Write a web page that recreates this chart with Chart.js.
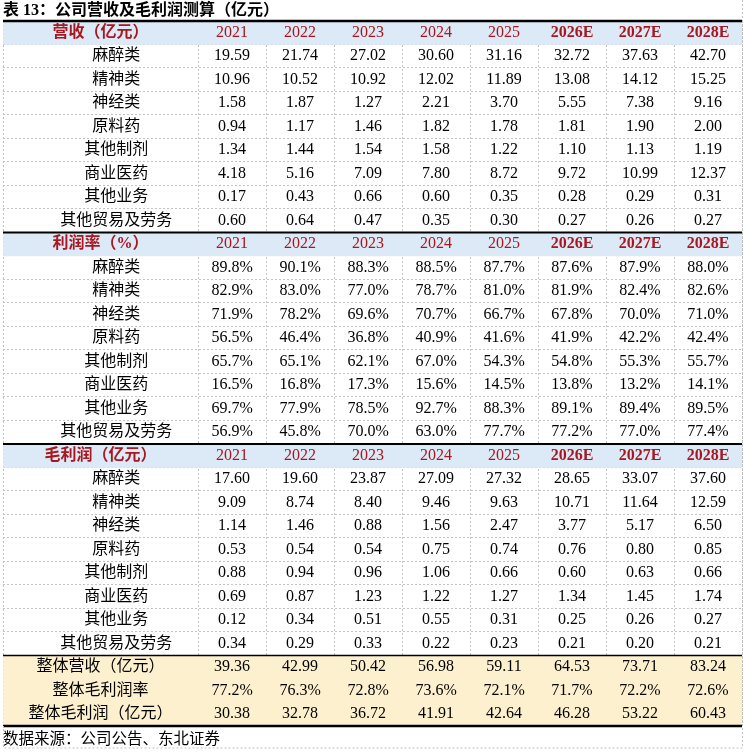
<!DOCTYPE html>
<html>
<head>
<meta charset="utf-8">
<script src="https://cdn.jsdelivr.net/npm/chart.js@4.4.1/dist/chart.umd.min.js"></script>
<style>
  html, body { margin: 0; background: #fff; }
  #wrap { width: 745px; height: 753px; }
</style>
</head>
<body>
<div id="wrap"><canvas id="tbl"></canvas></div>
<script>
  const years = ['2021', '2022', '2023', '2024', '2025', '2026E', '2027E', '2028E'];
  const estimated = ['2026E', '2027E', '2028E'];
  const segments = ['麻醉类', '精神类', '神经类', '原料药', '其他制剂', '商业医药', '其他业务', '其他贸易及劳务'];
  const sectionTitles = ['营收（亿元）', '利润率（%）', '毛利润（亿元）'];
  const totalTitles = ['整体营收（亿元）', '整体毛利润率', '整体毛利润（亿元）'];

  // 营收（亿元）
  const revenue = [
    [19.59, 21.74, 27.02, 30.60, 31.16, 32.72, 37.63, 42.70],
    [10.96, 10.52, 10.92, 12.02, 11.89, 13.08, 14.12, 15.25],
    [1.58, 1.87, 1.27, 2.21, 3.70, 5.55, 7.38, 9.16],
    [0.94, 1.17, 1.46, 1.82, 1.78, 1.81, 1.90, 2.00],
    [1.34, 1.44, 1.54, 1.58, 1.22, 1.10, 1.13, 1.19],
    [4.18, 5.16, 7.09, 7.80, 8.72, 9.72, 10.99, 12.37],
    [0.17, 0.43, 0.66, 0.60, 0.35, 0.28, 0.29, 0.31],
    [0.60, 0.64, 0.47, 0.35, 0.30, 0.27, 0.26, 0.27]
  ];

  // 利润率（%）
  const margin = [
    [89.8, 90.1, 88.3, 88.5, 87.7, 87.6, 87.9, 88.0],
    [82.9, 83.0, 77.0, 78.7, 81.0, 81.9, 82.4, 82.6],
    [71.9, 78.2, 69.6, 70.7, 66.7, 67.8, 70.0, 71.0],
    [56.5, 46.4, 36.8, 40.9, 41.6, 41.9, 42.2, 42.4],
    [65.7, 65.1, 62.1, 67.0, 54.3, 54.8, 55.3, 55.7],
    [16.5, 16.8, 17.3, 15.6, 14.5, 13.8, 13.2, 14.1],
    [69.7, 77.9, 78.5, 92.7, 88.3, 89.1, 89.4, 89.5],
    [56.9, 45.8, 70.0, 63.0, 77.7, 77.2, 77.0, 77.4]
  ];

  // 毛利润（亿元）
  const grossProfit = [
    [17.60, 19.60, 23.87, 27.09, 27.32, 28.65, 33.07, 37.60],
    [9.09, 8.74, 8.40, 9.46, 9.63, 10.71, 11.64, 12.59],
    [1.14, 1.46, 0.88, 1.56, 2.47, 3.77, 5.17, 6.50],
    [0.53, 0.54, 0.54, 0.75, 0.74, 0.76, 0.80, 0.85],
    [0.88, 0.94, 0.96, 1.06, 0.66, 0.60, 0.63, 0.66],
    [0.69, 0.87, 1.23, 1.22, 1.27, 1.34, 1.45, 1.74],
    [0.12, 0.34, 0.51, 0.55, 0.31, 0.25, 0.26, 0.27],
    [0.34, 0.29, 0.33, 0.22, 0.23, 0.21, 0.20, 0.21]
  ];

  const totalRevenue = [39.36, 42.99, 50.42, 56.98, 59.11, 64.53, 73.71, 83.24];
  const totalMargin = [77.2, 76.3, 72.8, 73.6, 72.1, 71.7, 72.2, 72.6];
  const totalProfit = [30.38, 32.78, 36.72, 41.91, 42.64, 46.28, 53.22, 60.43];

  const fmtNum = v => v.toFixed(2);
  const fmtPct = v => v.toFixed(1) + '%';

  // one entry per table row, top to bottom
  let rows = [];
  [[revenue, fmtNum], [margin, fmtPct], [grossProfit, fmtNum]].forEach(([block, fmt], s) => {
    rows.push({ kind: 'head', label: sectionTitles[s], cells: years });
    segments.forEach((name, j) => {
      rows.push({ kind: 'body', label: name, cells: block[j].map(fmt) });
    });
  });
  rows.push({ kind: 'total', label: totalTitles[0], cells: totalRevenue.map(fmtNum) });
  rows.push({ kind: 'total', label: totalTitles[1], cells: totalMargin.map(fmtPct) });
  rows.push({ kind: 'total', label: totalTitles[2], cells: totalProfit.map(fmtNum) });

  const labelSpan = 2.87;              // width of the label column in data-column units
  const xMax = labelSpan + years.length;
  const rowKeys = rows.map((r, i) => 'r' + i);
  const fills = { head: '#dce9f6', total: '#fdf0cf' };
  const bandRows = rows.map((r, i) => ({ r, i })).filter(o => fills[o.r.kind]);

  const numFont = "'Liberation Serif', 'Noto Sans CJK SC', serif";
  const headRed = '#a8161f';
  const gridGrey = '#c2c2c2';

  const cellText = {
    id: 'cellText',
    afterDraw(chart) {
      const { ctx, chartArea: a } = chart;
      const x = chart.scales.x;
      const y = chart.scales.y;
      ctx.save();
      ctx.textBaseline = 'middle';
      ctx.textAlign = 'center';

      rows.forEach((row, i) => {
        let cy = y.getPixelForValue(i);
        let head = row.kind === 'head';
        ctx.fillStyle = head ? headRed : '#000';
        ctx.font = (head ? 'bold ' : '') + '16px ' + numFont;
        let lx = x.getPixelForValue(row.kind === 'body' ? labelSpan * 0.58 : labelSpan / 2);
        ctx.fillText(row.label, lx, cy);
        row.cells.forEach((t, k) => {
          ctx.font = (head && estimated.includes(t) ? 'bold ' : '') + '16px ' + numFont;
          ctx.fillText(t, x.getPixelForValue(labelSpan + k + 0.5), cy);
        });
      });

      // solid rules: table top, above each section head, above totals, table bottom
      function rule(edge, w) {
        let py = y.getPixelForValue(edge - 0.5);
        ctx.beginPath();
        ctx.lineWidth = w;
        ctx.strokeStyle = '#000';
        ctx.moveTo(a.left, py);
        ctx.lineTo(a.right, py);
        ctx.stroke();
      }
      rows.forEach((row, i) => {
        if (row.kind === 'head') rule(i, i === 0 ? 2.6 : 2);
        if (row.kind === 'total' && rows[i - 1].kind !== 'total') rule(i, 1.6);
      });
      rule(rows.length, 2.6);

      // dashed frame round the whole picture
      let frameBottom = chart.height - 5;
      ctx.beginPath();
      ctx.lineWidth = 1;
      ctx.strokeStyle = gridGrey;
      ctx.setLineDash([2, 2]);
      ctx.moveTo(a.right + 0.5, 0);
      ctx.lineTo(a.right + 0.5, frameBottom);
      ctx.lineTo(a.left + 0.5, frameBottom);
      ctx.lineTo(a.left + 0.5, a.bottom);
      ctx.stroke();
      ctx.restore();
    }
  };

  new Chart(document.getElementById('tbl'), {
    type: 'bar',
    data: {
      labels: rowKeys,
      datasets: [{
        data: bandRows.map(o => ({ y: rowKeys[o.i], x: [0, xMax] })),
        backgroundColor: bandRows.map(o => fills[o.r.kind]),
        borderWidth: 0,
        barPercentage: 1,
        categoryPercentage: 1
      }]
    },
    options: {
      indexAxis: 'y',
      responsive: true,
      maintainAspectRatio: false,
      animation: false,
      events: [],
      layout: { padding: { left: 3, right: 3, top: 0, bottom: 0 } },
      scales: {
        x: {
          type: 'linear',
          min: 0,
          max: xMax,
          z: 1,
          afterBuildTicks: sc => {
            let edges = [0];
            years.forEach((yr, k) => edges.push(labelSpan + k));
            edges.push(xMax);
            sc.ticks = edges.map(v => ({ value: v }));
          },
          ticks: { display: false },
          grid: { color: gridGrey, drawTicks: false },
          border: { display: false, dash: [2, 2] }
        },
        y: {
          type: 'category',
          z: 1,
          ticks: { display: false },
          grid: { offset: true, color: gridGrey, drawTicks: false },
          border: { display: false, dash: [2, 2] }
        }
      },
      plugins: {
        legend: { display: false },
        tooltip: { enabled: false },
        title: {
          display: true,
          text: '表 13：公司营收及毛利润测算（亿元）',
          align: 'start',
          color: '#000',
          font: { family: numFont, size: 16, weight: 'bold', lineHeight: 1.1 },
          padding: { top: 2, bottom: 1.4 }
        },
        subtitle: {
          display: true,
          position: 'bottom',
          text: '数据来源：公司公告、东北证券',
          align: 'start',
          color: '#000',
          font: { family: numFont, size: 15.5, lineHeight: 1.1 },
          padding: { top: 5, bottom: 5 }
        }
      }
    },
    plugins: [cellText]
  });
</script>
</body>
</html>
